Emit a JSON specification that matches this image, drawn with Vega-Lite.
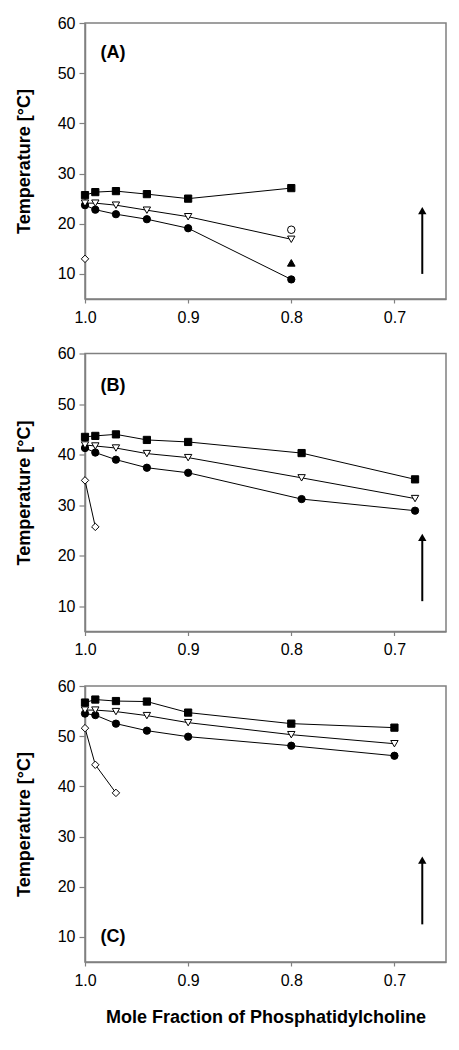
{
  "$schema": "https://vega.github.io/schema/vega-lite/v6.json",
  "padding": {"left": 14, "top": 14, "right": 5, "bottom": 5},
  "background": "white",
  "datasets": {
    "pts": [
      {"panel": "A", "series": "sq", "x": 1.0, "y": 25.7},
      {"panel": "A", "series": "sq", "x": 0.99, "y": 26.3},
      {"panel": "A", "series": "sq", "x": 0.97, "y": 26.5},
      {"panel": "A", "series": "sq", "x": 0.94, "y": 25.9},
      {"panel": "A", "series": "sq", "x": 0.9, "y": 25.0},
      {"panel": "A", "series": "sq", "x": 0.8, "y": 27.1},
      {"panel": "A", "series": "circ", "x": 1.0, "y": 23.7},
      {"panel": "A", "series": "circ", "x": 0.99, "y": 22.8},
      {"panel": "A", "series": "circ", "x": 0.97, "y": 21.9},
      {"panel": "A", "series": "circ", "x": 0.94, "y": 20.9},
      {"panel": "A", "series": "circ", "x": 0.9, "y": 19.1},
      {"panel": "A", "series": "circ", "x": 0.8, "y": 8.9},
      {"panel": "A", "series": "tri", "x": 1.0, "y": 24.1},
      {"panel": "A", "series": "tri", "x": 0.99, "y": 24.1},
      {"panel": "A", "series": "tri", "x": 0.97, "y": 23.7},
      {"panel": "A", "series": "tri", "x": 0.94, "y": 22.7},
      {"panel": "A", "series": "tri", "x": 0.9, "y": 21.4},
      {"panel": "A", "series": "tri", "x": 0.8, "y": 16.9},
      {"panel": "A", "series": "dia", "x": 1.0, "y": 13.0},
      {"panel": "A", "series": "ocirc", "x": 0.8, "y": 18.8},
      {"panel": "A", "series": "utri", "x": 0.8, "y": 12.2},
      {"panel": "B", "series": "sq", "x": 1.0, "y": 43.5},
      {"panel": "B", "series": "sq", "x": 0.99, "y": 43.7},
      {"panel": "B", "series": "sq", "x": 0.97, "y": 44.0},
      {"panel": "B", "series": "sq", "x": 0.94, "y": 42.9},
      {"panel": "B", "series": "sq", "x": 0.9, "y": 42.5},
      {"panel": "B", "series": "sq", "x": 0.79, "y": 40.3},
      {"panel": "B", "series": "sq", "x": 0.68, "y": 35.1},
      {"panel": "B", "series": "circ", "x": 1.0, "y": 41.3},
      {"panel": "B", "series": "circ", "x": 0.99, "y": 40.4},
      {"panel": "B", "series": "circ", "x": 0.97, "y": 39.0},
      {"panel": "B", "series": "circ", "x": 0.94, "y": 37.4},
      {"panel": "B", "series": "circ", "x": 0.9, "y": 36.4},
      {"panel": "B", "series": "circ", "x": 0.79, "y": 31.2},
      {"panel": "B", "series": "circ", "x": 0.68, "y": 28.9},
      {"panel": "B", "series": "tri", "x": 1.0, "y": 41.9},
      {"panel": "B", "series": "tri", "x": 0.99, "y": 41.7},
      {"panel": "B", "series": "tri", "x": 0.97, "y": 41.3},
      {"panel": "B", "series": "tri", "x": 0.94, "y": 40.2},
      {"panel": "B", "series": "tri", "x": 0.9, "y": 39.4},
      {"panel": "B", "series": "tri", "x": 0.79, "y": 35.4},
      {"panel": "B", "series": "tri", "x": 0.68, "y": 31.3},
      {"panel": "B", "series": "dia", "x": 1.0, "y": 34.9},
      {"panel": "B", "series": "dia", "x": 0.99, "y": 25.7},
      {"panel": "C", "series": "sq", "x": 1.0, "y": 56.7},
      {"panel": "C", "series": "sq", "x": 0.99, "y": 57.3},
      {"panel": "C", "series": "sq", "x": 0.97, "y": 57.0},
      {"panel": "C", "series": "sq", "x": 0.94, "y": 56.9},
      {"panel": "C", "series": "sq", "x": 0.9, "y": 54.7},
      {"panel": "C", "series": "sq", "x": 0.8, "y": 52.5},
      {"panel": "C", "series": "sq", "x": 0.7, "y": 51.7},
      {"panel": "C", "series": "circ", "x": 1.0, "y": 54.5},
      {"panel": "C", "series": "circ", "x": 0.99, "y": 54.2},
      {"panel": "C", "series": "circ", "x": 0.97, "y": 52.5},
      {"panel": "C", "series": "circ", "x": 0.94, "y": 51.1},
      {"panel": "C", "series": "circ", "x": 0.9, "y": 49.9},
      {"panel": "C", "series": "circ", "x": 0.8, "y": 48.1},
      {"panel": "C", "series": "circ", "x": 0.7, "y": 46.1},
      {"panel": "C", "series": "tri", "x": 1.0, "y": 55.2},
      {"panel": "C", "series": "tri", "x": 0.99, "y": 55.2},
      {"panel": "C", "series": "tri", "x": 0.97, "y": 54.9},
      {"panel": "C", "series": "tri", "x": 0.94, "y": 54.1},
      {"panel": "C", "series": "tri", "x": 0.9, "y": 52.7},
      {"panel": "C", "series": "tri", "x": 0.8, "y": 50.3},
      {"panel": "C", "series": "tri", "x": 0.7, "y": 48.5},
      {"panel": "C", "series": "dia", "x": 1.0, "y": 51.6},
      {"panel": "C", "series": "dia", "x": 0.99, "y": 44.3},
      {"panel": "C", "series": "dia", "x": 0.97, "y": 38.7}
    ],
    "arrows": [
      {"panel": "A", "x": 0.673, "y": 10.0, "y2": 22.5, "head": 22.6},
      {"panel": "B", "x": 0.673, "y": 11.0, "y2": 23.5, "head": 23.6},
      {"panel": "C", "x": 0.673, "y": 12.5, "y2": 25.2, "head": 25.3}
    ],
    "labels": [
      {"panel": "A", "x": 0.9728, "y": 54.1, "text": "(A)"},
      {"panel": "B", "x": 0.9728, "y": 53.5, "text": "(B)"},
      {"panel": "C", "x": 0.9728, "y": 10.0, "text": "(C)"}
    ]
  },
  "config": {
    "font": "Liberation Sans",
    "view": {"stroke": "#808080", "strokeWidth": 1.5},
    "axis": {
      "grid": false,
      "labelFlush": false,
      "labelOverlap": false,
      "labelFont": "Liberation Sans",
      "labelFontSize": 16,
      "labelColor": "#000000",
      "domainColor": "#808080",
      "domainWidth": 1.5,
      "tickColor": "#808080",
      "tickWidth": 1.2,
      "titleFont": "Liberation Sans",
      "titleFontSize": 18,
      "titleFontWeight": "bold",
      "titleColor": "#000000"
    }
  },
  "bounds": "flush",
  "spacing": 54.5,
  "vconcat": [
    {
      "width": 361, "height": 276,
      "layer": [
        {
          "data": {"name": "pts"},
          "transform": [{"filter": "datum.panel == 'A'"}],
          "mark": {"type": "line", "color": "#000000", "strokeWidth": 1},
          "encoding": {
            "x": {"field": "x", "type": "quantitative", "scale": {"domain": [0.65, 1.0], "reverse": true, "nice": false, "zero": false},
              "axis": {"values": [1.0, 0.9, 0.8, 0.7], "format": ".1f", "title": null, "tickSize": 4, "labelPadding": 6}},
            "y": {"field": "y", "type": "quantitative", "scale": {"domain": [5, 60], "nice": false, "zero": false},
              "axis": {"values": [10, 20, 30, 40, 50, 60], "title": "Temperature [°C]", "tickSize": 6, "labelPadding": 4, "titlePadding": 24}},
            "detail": {"field": "series"}
          }
        },
        {
          "data": {"name": "pts"},
          "transform": [{"filter": "datum.panel == 'A'"}],
          "mark": {"type": "point", "filled": false, "stroke": "#000000", "strokeWidth": 1, "opacity": 1},
          "encoding": {
            "x": {"field": "x", "type": "quantitative"},
            "y": {"field": "y", "type": "quantitative"},
            "shape": {"field": "series", "type": "nominal", "legend": null,
              "scale": {"domain": ["sq", "circ", "tri", "dia", "ocirc", "utri"], "range": ["square", "circle", "triangle-down", "diamond", "circle", "triangle-up"]}},
            "fill": {"field": "series", "type": "nominal", "legend": null,
              "scale": {"domain": ["sq", "circ", "tri", "dia", "ocirc", "utri"], "range": ["#000000", "#000000", "#ffffff", "#ffffff", "#ffffff", "#000000"]}},
            "size": {"field": "series", "type": "nominal", "legend": null,
              "scale": {"domain": ["sq", "circ", "tri", "dia", "ocirc", "utri"], "range": [52, 58, 85, 85, 45, 64]}}
          }
        },
        {
          "data": {"name": "arrows"},
          "transform": [{"filter": "datum.panel == 'A'"}],
          "mark": {"type": "rule", "color": "#000000", "strokeWidth": 2},
          "encoding": {
            "x": {"field": "x", "type": "quantitative"},
            "y": {"field": "y", "type": "quantitative"},
            "y2": {"field": "y2"}
          }
        },
        {
          "data": {"name": "arrows"},
          "transform": [{"filter": "datum.panel == 'A'"}],
          "mark": {"type": "point", "shape": "triangle-up", "filled": true, "color": "#000000", "size": 70, "opacity": 1},
          "encoding": {
            "x": {"field": "x", "type": "quantitative"},
            "y": {"field": "head", "type": "quantitative"}
          }
        },
        {
          "data": {"name": "labels"},
          "transform": [{"filter": "datum.panel == 'A'"}],
          "mark": {"type": "text", "font": "Liberation Sans", "fontSize": 18, "fontWeight": "bold", "color": "#000000", "align": "center", "baseline": "middle"},
          "encoding": {
            "x": {"field": "x", "type": "quantitative"},
            "y": {"field": "y", "type": "quantitative"},
            "text": {"field": "text"}
          }
        }
      ]
    },
    {
      "width": 361, "height": 278,
      "layer": [
        {
          "data": {"name": "pts"},
          "transform": [{"filter": "datum.panel == 'B'"}],
          "mark": {"type": "line", "color": "#000000", "strokeWidth": 1},
          "encoding": {
            "x": {"field": "x", "type": "quantitative", "scale": {"domain": [0.65, 1.0], "reverse": true, "nice": false, "zero": false},
              "axis": {"values": [1.0, 0.9, 0.8, 0.7], "format": ".1f", "title": null, "tickSize": 4, "labelPadding": 6}},
            "y": {"field": "y", "type": "quantitative", "scale": {"domain": [5, 60], "nice": false, "zero": false},
              "axis": {"values": [10, 20, 30, 40, 50, 60], "title": "Temperature [°C]", "tickSize": 6, "labelPadding": 4, "titlePadding": 24}},
            "detail": {"field": "series"}
          }
        },
        {
          "data": {"name": "pts"},
          "transform": [{"filter": "datum.panel == 'B'"}],
          "mark": {"type": "point", "filled": false, "stroke": "#000000", "strokeWidth": 1, "opacity": 1},
          "encoding": {
            "x": {"field": "x", "type": "quantitative"},
            "y": {"field": "y", "type": "quantitative"},
            "shape": {"field": "series", "type": "nominal", "legend": null,
              "scale": {"domain": ["sq", "circ", "tri", "dia", "ocirc", "utri"], "range": ["square", "circle", "triangle-down", "diamond", "circle", "triangle-up"]}},
            "fill": {"field": "series", "type": "nominal", "legend": null,
              "scale": {"domain": ["sq", "circ", "tri", "dia", "ocirc", "utri"], "range": ["#000000", "#000000", "#ffffff", "#ffffff", "#ffffff", "#000000"]}},
            "size": {"field": "series", "type": "nominal", "legend": null,
              "scale": {"domain": ["sq", "circ", "tri", "dia", "ocirc", "utri"], "range": [52, 58, 85, 85, 45, 64]}}
          }
        },
        {
          "data": {"name": "arrows"},
          "transform": [{"filter": "datum.panel == 'B'"}],
          "mark": {"type": "rule", "color": "#000000", "strokeWidth": 2},
          "encoding": {
            "x": {"field": "x", "type": "quantitative"},
            "y": {"field": "y", "type": "quantitative"},
            "y2": {"field": "y2"}
          }
        },
        {
          "data": {"name": "arrows"},
          "transform": [{"filter": "datum.panel == 'B'"}],
          "mark": {"type": "point", "shape": "triangle-up", "filled": true, "color": "#000000", "size": 70, "opacity": 1},
          "encoding": {
            "x": {"field": "x", "type": "quantitative"},
            "y": {"field": "head", "type": "quantitative"}
          }
        },
        {
          "data": {"name": "labels"},
          "transform": [{"filter": "datum.panel == 'B'"}],
          "mark": {"type": "text", "font": "Liberation Sans", "fontSize": 18, "fontWeight": "bold", "color": "#000000", "align": "center", "baseline": "middle"},
          "encoding": {
            "x": {"field": "x", "type": "quantitative"},
            "y": {"field": "y", "type": "quantitative"},
            "text": {"field": "text"}
          }
        }
      ]
    },
    {
      "width": 361, "height": 276,
      "layer": [
        {
          "data": {"name": "pts"},
          "transform": [{"filter": "datum.panel == 'C'"}],
          "mark": {"type": "line", "color": "#000000", "strokeWidth": 1},
          "encoding": {
            "x": {"field": "x", "type": "quantitative", "scale": {"domain": [0.65, 1.0], "reverse": true, "nice": false, "zero": false},
              "axis": {"values": [1.0, 0.9, 0.8, 0.7], "format": ".1f", "title": "Mole Fraction of Phosphatidylcholine", "tickSize": 4, "labelPadding": 6, "titlePadding": 20}},
            "y": {"field": "y", "type": "quantitative", "scale": {"domain": [5, 60], "nice": false, "zero": false},
              "axis": {"values": [10, 20, 30, 40, 50, 60], "title": "Temperature [°C]", "tickSize": 6, "labelPadding": 4, "titlePadding": 24}},
            "detail": {"field": "series"}
          }
        },
        {
          "data": {"name": "pts"},
          "transform": [{"filter": "datum.panel == 'C'"}],
          "mark": {"type": "point", "filled": false, "stroke": "#000000", "strokeWidth": 1, "opacity": 1},
          "encoding": {
            "x": {"field": "x", "type": "quantitative"},
            "y": {"field": "y", "type": "quantitative"},
            "shape": {"field": "series", "type": "nominal", "legend": null,
              "scale": {"domain": ["sq", "circ", "tri", "dia", "ocirc", "utri"], "range": ["square", "circle", "triangle-down", "diamond", "circle", "triangle-up"]}},
            "fill": {"field": "series", "type": "nominal", "legend": null,
              "scale": {"domain": ["sq", "circ", "tri", "dia", "ocirc", "utri"], "range": ["#000000", "#000000", "#ffffff", "#ffffff", "#ffffff", "#000000"]}},
            "size": {"field": "series", "type": "nominal", "legend": null,
              "scale": {"domain": ["sq", "circ", "tri", "dia", "ocirc", "utri"], "range": [52, 58, 85, 85, 45, 64]}}
          }
        },
        {
          "data": {"name": "arrows"},
          "transform": [{"filter": "datum.panel == 'C'"}],
          "mark": {"type": "rule", "color": "#000000", "strokeWidth": 2},
          "encoding": {
            "x": {"field": "x", "type": "quantitative"},
            "y": {"field": "y", "type": "quantitative"},
            "y2": {"field": "y2"}
          }
        },
        {
          "data": {"name": "arrows"},
          "transform": [{"filter": "datum.panel == 'C'"}],
          "mark": {"type": "point", "shape": "triangle-up", "filled": true, "color": "#000000", "size": 70, "opacity": 1},
          "encoding": {
            "x": {"field": "x", "type": "quantitative"},
            "y": {"field": "head", "type": "quantitative"}
          }
        },
        {
          "data": {"name": "labels"},
          "transform": [{"filter": "datum.panel == 'C'"}],
          "mark": {"type": "text", "font": "Liberation Sans", "fontSize": 18, "fontWeight": "bold", "color": "#000000", "align": "center", "baseline": "middle"},
          "encoding": {
            "x": {"field": "x", "type": "quantitative"},
            "y": {"field": "y", "type": "quantitative"},
            "text": {"field": "text"}
          }
        }
      ]
    }
  ]
}
